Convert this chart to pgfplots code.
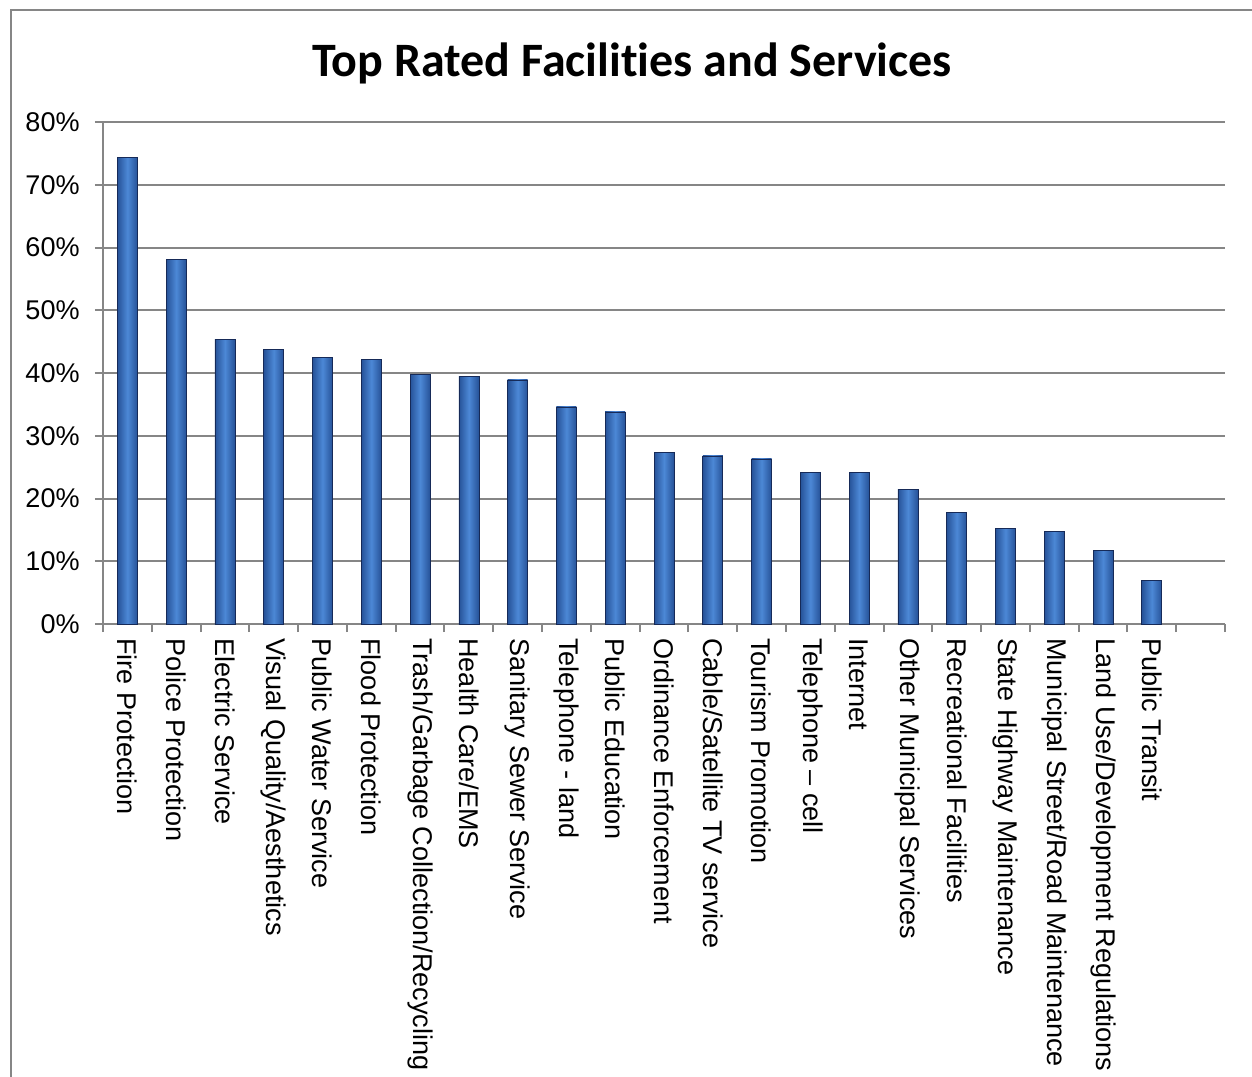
\documentclass[border=0pt]{standalone}
\usepackage{fontspec}
\setmainfont{Liberation Sans}
\newfontfamily\titlefont{Carlito}[Ligatures=NoCommon]
\usepackage{pgfplots}
\pgfplotsset{compat=1.18}

\definecolor{gridgray}{RGB}{134,134,134}
\definecolor{bardark}{RGB}{38,82,152}
\definecolor{barmid}{RGB}{76,136,214}
\definecolor{baredge}{RGB}{22,42,88}

\begin{document}
\begin{tikzpicture}
\useasboundingbox (0,0) rectangle (25.04cm,-21.52cm);
% chart frame (only left and top are visible in the crop)
\draw[gridgray, line width=0.05cm] (0.22cm,-21.6cm) -- (0.22cm,-0.2cm) -- (25.1cm,-0.2cm);
\node[font=\titlefont\bfseries\fontsize{27.3}{33}\selectfont] at (12.64cm,-1.26cm) {Top Rated Facilities and Services};

\begin{axis}[
    at={(2.06cm,-12.48cm)}, anchor=south west,
    width=22.44cm, height=10.04cm,
    scale only axis,
    ybar, bar width=0.41, bar shift=0,
    xmin=-0.5, xmax=22.5,
    ymin=0, ymax=80,
    axis x line*=bottom, axis y line*=left,
    axis line style={gridgray, line width=0.04cm, -},
    ytick={0,10,...,80},
    yticklabel={\pgfmathprintnumber{\tick}\%},
    ymajorgrids,
    grid style={gridgray, line width=0.04cm},
    tick align=outside,
    major tick length=0.16cm,
    minor tick length=0.16cm,
    ytick style={gridgray, line width=0.04cm},
    major x tick style={draw=none},
    minor x tick style={gridgray, line width=0.04cm},
    xtick={0,...,21},
    minor xtick={-0.5,0.5,...,22.5},
    xticklabels={Fire Protection, Police Protection, Electric Service,
        Visual Quality/Aesthetics, Public Water Service, Flood Protection,
        Trash/Garbage Collection/Recycling, Health Care/EMS,
        Sanitary Sewer Service, Telephone - land, Public Education,
        Ordinance Enforcement, Cable/Satellite TV service, Tourism Promotion,
        Telephone – cell, Internet, Other Municipal Services,
        Recreational Facilities, State Highway Maintenance,
        Municipal Street/Road Maintenance, Land Use/Development Regulations,
        Public Transit},
    xticklabel style={rotate=-90, anchor=west, inner sep=0pt, xshift=-0.04cm},
    xticklabel shift=0.16cm,
    ticklabel style={font=\fontsize{15.4}{18}\selectfont},
    yticklabel style={inner sep=0pt, xshift=-0.3cm},
    /pgf/number format/assume math mode=true,
    mybar/.style={draw=baredge, line width=0.4pt,
        left color=bardark, right color=bardark, middle color=barmid},
]
% one plot per bar so each bar gets its own shading
\addplot[mybar] coordinates {(0,74.4)};
\addplot[mybar] coordinates {(1,58.1)};
\addplot[mybar] coordinates {(2,45.4)};
\addplot[mybar] coordinates {(3,43.8)};
\addplot[mybar] coordinates {(4,42.5)};
\addplot[mybar] coordinates {(5,42.1)};
\addplot[mybar] coordinates {(6,39.8)};
\addplot[mybar] coordinates {(7,39.4)};
\addplot[mybar] coordinates {(8,38.9)};
\addplot[mybar] coordinates {(9,34.6)};
\addplot[mybar] coordinates {(10,33.8)};
\addplot[mybar] coordinates {(11,27.3)};
\addplot[mybar] coordinates {(12,26.8)};
\addplot[mybar] coordinates {(13,26.3)};
\addplot[mybar] coordinates {(14,24.2)};
\addplot[mybar] coordinates {(15,24.2)};
\addplot[mybar] coordinates {(16,21.5)};
\addplot[mybar] coordinates {(17,17.8)};
\addplot[mybar] coordinates {(18,15.3)};
\addplot[mybar] coordinates {(19,14.8)};
\addplot[mybar] coordinates {(20,11.7)};
\addplot[mybar] coordinates {(21,7.0)};
\end{axis}
\end{tikzpicture}
\end{document}
